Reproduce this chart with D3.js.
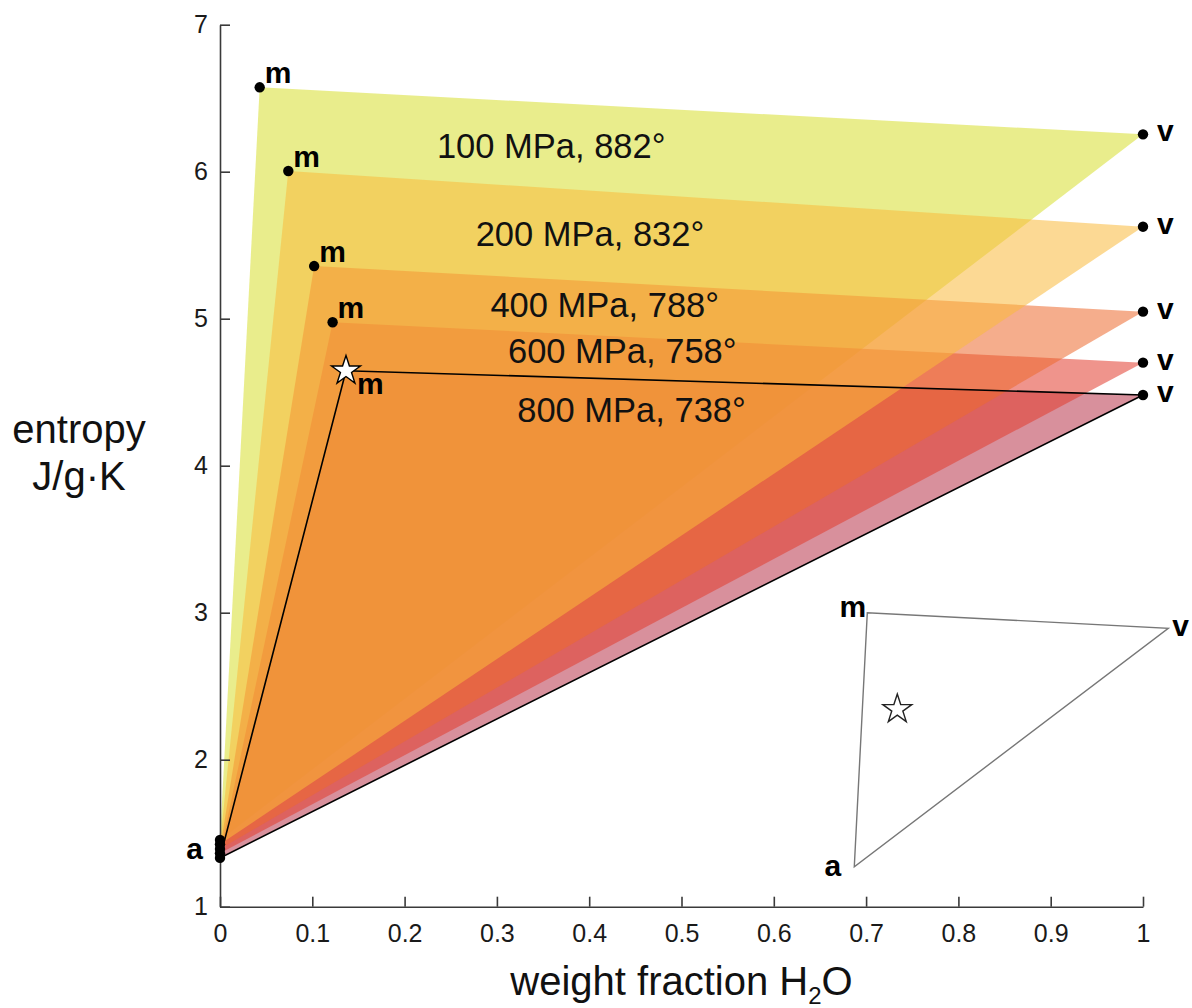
<!DOCTYPE html>
<html>
<head>
<meta charset="utf-8">
<script src="https://cdn.jsdelivr.net/npm/d3@7"></script>
<style>
  body { margin: 0; background: #fff; }
  svg { font-family: "Liberation Sans", Arial, Helvetica, sans-serif; }
</style>
</head>
<body>
<div id="chart"></div>
<script>
// values
const pressureLabels = ["100 MPa, 882°", "200 MPa, 832°", "400 MPa, 788°", "600 MPa, 758°", "800 MPa, 738°"];
const aEntropy  = [1.454, 1.424, 1.393, 1.363, 1.332];
const mFraction = [0.043, 0.074, 0.102, 0.122, 0.1365];
const mEntropy  = [6.574, 6.005, 5.358, 4.976, 4.646];
const vFraction = [1, 1, 1, 1, 1];
const vEntropy  = [6.254, 5.626, 5.048, 4.701, 4.481];
// where each pressure label sits (left / baseline, data units)
const labelFraction = [0.235, 0.277, 0.293, 0.312, 0.322];
const labelEntropy  = [6.095, 5.495, 5.014, 4.697, 4.299];

const fillColors = ["#d7de2e", "#fab93c", "#ec692d", "#e13c2d", "#b8354b"];
const drawOrder = [0, 4, 3, 2, 1];

// schematic inset: a, m, v corners and the star
const insetNames    = ["a", "m", "v"];
const insetFraction = [0.6872, 0.7013, 1.0274];
const insetEntropy  = [1.272, 3.0, 2.894];
const insetStar     = [0.7338, 2.343];

const xTicks = [0, 0.1, 0.2, 0.3, 0.4, 0.5, 0.6, 0.7, 0.8, 0.9, 1];
const yTicks = [1, 2, 3, 4, 5, 6, 7];

const width = 1192, height = 1008;

const x = d3.scaleLinear().domain([0, 1]).range([220, 1143]);
const y = d3.scaleLinear().domain([1, 7]).range([906.7, 24.7]);

const svg = d3.select("#chart").append("svg")
  .attr("width", width)
  .attr("height", height);

// triangles a - m - v
const tri = d3.range(pressureLabels.length).map(i => ({
  i: i,
  pts: [[0, aEntropy[i]], [mFraction[i], mEntropy[i]], [vFraction[i], vEntropy[i]]]
}));

const line = d3.line().x(d => x(d[0])).y(d => y(d[1]));

svg.append("g").selectAll("path")
  .data(drawOrder.map(k => tri[k]))
  .join("path")
  .attr("d", d => line(d.pts) + "Z")
  .attr("fill", d => fillColors[d.i])
  .attr("fill-opacity", 0.55)
  .attr("stroke", "none");

// outline of the 800 MPa triangle
const last = tri[tri.length - 1];
svg.append("path")
  .attr("d", line(last.pts) + "Z")
  .attr("fill", "none")
  .attr("stroke", "#000")
  .attr("stroke-width", 1.6);

// axes
const fmt = d3.format("~g");
const xAxis = d3.axisBottom(x).tickValues(xTicks)
  .tickSizeInner(-10).tickSizeOuter(0).tickPadding(18)
  .tickFormat(fmt);
const yAxis = d3.axisLeft(y).tickValues(yTicks)
  .tickSizeInner(-10).tickSizeOuter(0).tickPadding(12)
  .tickFormat(fmt);

const gx = svg.append("g").attr("transform", `translate(0,${y(1)})`).call(xAxis);
const gy = svg.append("g").attr("transform", `translate(${x(0)},0)`).call(yAxis);
[gx, gy].forEach(g => {
  g.selectAll("path, line").attr("stroke", "#3a3a3a").attr("stroke-width", 1.6);
  g.selectAll("text").attr("font-size", 25).attr("fill", "#1a1a1a")
    .attr("font-family", "'Liberation Sans', Arial, sans-serif");
});

// vertex dots
const dots = [];
tri.forEach(t => {
  dots.push({ p: t.pts[0] });
  if (t.i < tri.length - 1) dots.push({ p: t.pts[1] });
  dots.push({ p: t.pts[2] });
});
svg.append("g").selectAll("circle")
  .data(dots)
  .join("circle")
  .attr("cx", d => x(d.p[0]))
  .attr("cy", d => y(d.p[1]))
  .attr("r", 5.2)
  .attr("fill", "#000");

// star at the 800 MPa melt point
const star = d3.symbol().type(d3.symbolStar).size(260);
svg.append("path")
  .attr("d", star())
  .attr("transform", `translate(${x(last.pts[1][0])},${y(last.pts[1][1])})`)
  .attr("fill", "#fff")
  .attr("stroke", "#000")
  .attr("stroke-width", 1.4);

// m and v labels
const lbl = svg.append("g").attr("font-weight", "bold").attr("font-size", 30).attr("fill", "#000");
tri.forEach(t => {
  const mx = x(t.pts[1][0]), my = y(t.pts[1][1]);
  if (t.i < tri.length - 1) {
    lbl.append("text").attr("x", mx + 5).attr("y", my - 4).text("m");
  } else {
    lbl.append("text").attr("x", mx + 11).attr("y", my + 23).text("m");
  }
  lbl.append("text").attr("x", x(t.pts[2][0]) + 14).attr("y", y(t.pts[2][1]) + 7).text("v");
});
lbl.append("text").attr("x", x(0) - 17).attr("y", y(aEntropy[2]) + 10)
  .attr("text-anchor", "end").text("a");

// pressure / temperature labels
svg.append("g").selectAll("text")
  .data(pressureLabels)
  .join("text")
  .attr("x", (d, i) => x(labelFraction[i]))
  .attr("y", (d, i) => y(labelEntropy[i]))
  .attr("font-size", 34.5)
  .attr("fill", "#111")
  .text(d => d);

// schematic inset
const inset = insetNames.map((n, i) => [insetFraction[i], insetEntropy[i]]);
svg.append("path")
  .attr("d", line(inset) + "Z")
  .attr("fill", "none")
  .attr("stroke", "#777")
  .attr("stroke-width", 1.4);
svg.append("path")
  .attr("d", star())
  .attr("transform", `translate(${x(insetStar[0])},${y(insetStar[1])})`)
  .attr("fill", "#fff")
  .attr("stroke", "#222")
  .attr("stroke-width", 1.4);
const insetOff = { a: [-13, 9, "end"], m: [-1, 4, "end"], v: [4, 8, "start"] };
svg.append("g").selectAll("text")
  .data(insetNames)
  .join("text")
  .attr("x", (d, i) => x(insetFraction[i]) + insetOff[d][0])
  .attr("y", (d, i) => y(insetEntropy[i]) + insetOff[d][1])
  .attr("text-anchor", d => insetOff[d][2])
  .attr("font-weight", "bold")
  .attr("font-size", 30)
  .text(d => d);

// axis titles
const yt = svg.append("text")
  .attr("text-anchor", "middle")
  .attr("font-size", 40)
  .attr("fill", "#111");
yt.append("tspan").attr("x", 79).attr("y", 443).text("entropy");
yt.append("tspan").attr("x", 79).attr("y", 490).text("J/g·K");

const xt = svg.append("text")
  .attr("x", (x(0) + x(1)) / 2)
  .attr("y", 995)
  .attr("text-anchor", "middle")
  .attr("font-size", 40)
  .attr("fill", "#111");
xt.append("tspan").text("weight fraction H");
xt.append("tspan").attr("font-size", 24).attr("dy", 9).text("2");
xt.append("tspan").attr("dy", -9).text("O");
</script>
</body>
</html>
